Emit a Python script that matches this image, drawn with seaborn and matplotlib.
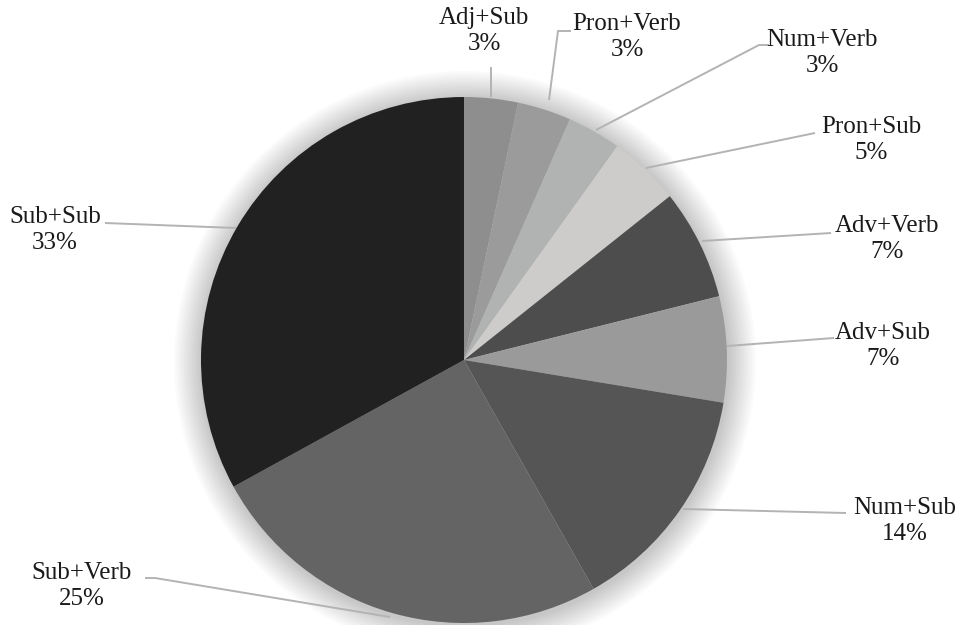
import matplotlib
matplotlib.use("Agg")
import matplotlib.pyplot as plt
from matplotlib.patches import Circle
import seaborn as sns

labels = ["Adj+Sub", "Pron+Verb", "Num+Verb", "Pron+Sub", "Adv+Verb",
          "Adv+Sub", "Num+Sub", "Sub+Verb", "Sub+Sub"]
values = [3.3, 3.3, 3.3, 4.4, 6.8, 6.5, 14.2, 25.2, 33.0]
pct_labels = ["3%", "3%", "3%", "5%", "7%", "7%", "14%", "25%", "33%"]
colors = ["#8e8e8e", "#9b9b9b", "#b1b2b2", "#cdcccb", "#4d4d4d",
          "#9a9a9a", "#555555", "#646464", "#212121"]

sns.set_theme(style="white")
plt.rcParams["font.family"] = ["Liberation Serif", "DejaVu Serif"]

W, H = 960, 625
fig = plt.figure(figsize=(9.6, 6.25), dpi=100)
ax = fig.add_axes([0, 0, 1, 1])

cx, cy, R = 464, H - 360, 263

# soft shadow glow
for i in range(14):
    ax.add_patch(Circle((cx + 1, cy - 2), R + 2 * (14 - i), color="black",
                        alpha=0.015, lw=0, zorder=0))

ax.pie(values, colors=colors, startangle=90, counterclock=False,
       center=(cx, cy), radius=R, frame=True,
       wedgeprops=dict(linewidth=0, zorder=2))
ax.set_xlim(0, W)
ax.set_ylim(0, H)
ax.set_aspect("equal")
ax.axis("off")

# label layout: (text x, name y, leader line points in pixel coords)
layout = [
    (484, 18, [(491, 97), (491, 67)]),
    (627, 24, [(549, 100), (558, 31), (571, 31)]),
    (822, 40, [(596, 130), (759, 45), (769, 45)]),
    (871, 127, [(646, 168), (815, 133)]),
    (887, 226, [(702, 241), (831, 233)]),
    (883, 333, [(727, 346), (834, 338)]),
    (905, 508, [(683, 509), (846, 513)]),
    (82, 573, [(390, 617), (155, 578), (145, 578)]),
    (55, 217, [(236, 228), (105, 223)]),
]

for lab, pct, (tx, ty, pts) in zip(labels, pct_labels, layout):
    xs = [p[0] for p in pts]
    ys = [H - p[1] for p in pts]
    ax.plot(xs, ys, color="#b3b3b3", lw=1.4, zorder=1, solid_capstyle="butt")
    ax.text(tx, H - ty, lab, ha="center", va="center", fontsize=18,
            color="#1a1a1a")
    ax.text(tx, H - ty - 26, pct, ha="center", va="center",
            fontsize=18, color="#1a1a1a")

fig.savefig("out.png", dpi=100, facecolor="white")
